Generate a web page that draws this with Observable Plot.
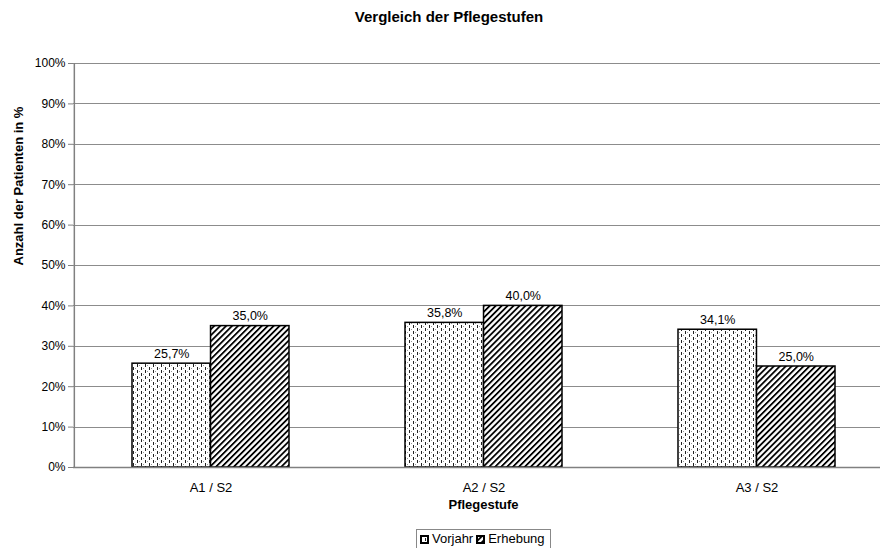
<!DOCTYPE html>
<html>
<head>
<meta charset="utf-8">
<script src="https://cdn.jsdelivr.net/npm/d3@7"></script>
<script src="https://cdn.jsdelivr.net/npm/@observablehq/plot@0.6"></script>
<style>
  html, body { margin: 0; padding: 0; background: #fff; overflow: hidden; }
  #wrap { position: relative; width: 880px; height: 548px; overflow: hidden; font-family: "Liberation Sans", Arial, sans-serif; color: #000; }
  #title { position: absolute; left: 0; top: 8px; width: 898px; text-align: center; font-weight: bold; font-size: 15px; }
  #chart { position: absolute; left: 0; top: 40px; }
  #chart svg { max-width: none !important; }
  #legend { position: absolute; left: 416px; top: 529px; height: 18px; width: 130px; padding: 0 0 0 3px; border: 1px solid #888; font-size: 13px; line-height: 18px; white-space: nowrap; background: #fff; }
  #legend span.item { display: inline-block; margin-right: 3px; }
  #legend svg { vertical-align: -1px; margin-right: 3px; }
</style>
</head>
<body>
<div id="wrap">
  <div id="title">Vergleich der Pflegestufen</div>
  <div id="chart"></div>
  <div id="legend"></div>
</div>
<script>
const categories = ["A1 / S2", "A2 / S2", "A3 / S2"];
const seriesNames = ["Vorjahr", "Erhebung"];
const vorjahr = [25.7, 35.8, 34.1];
const erhebung = [35.0, 40.0, 25.0];
const yTicks = [0, 10, 20, 30, 40, 50, 60, 70, 80, 90, 100];
const yLabel = "Anzahl der Patienten in %";
const xLabel = "Pflegestufe";
const patterns = {Vorjahr: "url(#pat-dots)", Erhebung: "url(#pat-hatch)"};

const rowsV = categories.map((c, i) => ({cat: c, series: "Vorjahr", value: vorjahr[i]}));
const rowsE = categories.map((c, i) => ({cat: c, series: "Erhebung", value: erhebung[i]}));

const de = d3.formatLocale({decimal: ",", thousands: ".", grouping: [3], currency: ["", " €"]});
const fmt1 = de.format(".1f");

// layout of the band scale
const W = 893, ML = 73, MR = 0;
const padIn = 0.4254, padOut = 0.2127;
const step = (W - ML - MR) / (categories.length - padIn + 2 * padOut);
const half = step * (1 - padIn) / 2;

const chart = Plot.plot({
  width: W,
  height: 485,
  marginTop: 23,
  marginLeft: ML,
  marginRight: MR,
  marginBottom: 58,
  style: {fontFamily: "'Liberation Sans', Arial, sans-serif", fontSize: "12px", color: "#000", background: "transparent", maxWidth: "none"},
  x: {domain: categories, paddingInner: padIn, paddingOuter: padOut},
  y: {domain: [0, 100]},
  marks: [
    Plot.ruleY(yTicks, {y: d => d, stroke: "#8c8c8c", strokeWidth: 1, shapeRendering: "crispEdges"}),
    Plot.barY(rowsV, {x: "cat", y: "value", fill: patterns.Vorjahr, stroke: "#000", strokeWidth: 1.5, insetRight: half}),
    Plot.barY(rowsE, {x: "cat", y: "value", fill: patterns.Erhebung, stroke: "#000", strokeWidth: 1.5, insetLeft: half}),
    Plot.text(rowsV, {x: "cat", y: "value", text: d => fmt1(d.value) + "%", dx: -half / 2, dy: -6, lineAnchor: "bottom", fill: "#000", fontSize: 12.5}),
    Plot.text(rowsE, {x: "cat", y: "value", text: d => fmt1(d.value) + "%", dx: half / 2, dy: -6, lineAnchor: "bottom", fill: "#000", fontSize: 12.5}),
    Plot.axisY({ticks: yTicks, tickFormat: d => d + "%", tickSize: 5, tickPadding: 3, label: null, stroke: "#808080"}),
    Plot.ruleX([categories[0]], {x: d => d, dx: -step * (padOut + (1 - padIn) / 2), stroke: "#808080", strokeWidth: 1.5}),
    Plot.axisX({anchor: "bottom", tickSize: 0, tickPadding: 15, label: null, fontSize: 13}),
    Plot.ruleY([0], {stroke: "#808080", strokeWidth: 1.5}),
    Plot.text([xLabel], {text: d => d, frameAnchor: "bottom", dy: 41, fontWeight: "bold", fontSize: 13}),
    Plot.text([yLabel], {text: d => d, frameAnchor: "left", dx: -55, rotate: -90, fontWeight: "bold", fontSize: 13})
  ]
});

// pattern definitions
const ns = "http://www.w3.org/2000/svg";
const defs = document.createElementNS(ns, "defs");
defs.innerHTML = `
  <pattern id="pat-dots" patternUnits="userSpaceOnUse" width="8" height="6">
    <rect width="8" height="6" fill="#fff"/>
    <rect x="1" y="0" width="1" height="3" fill="#222"/>
    <rect x="5" y="3" width="1" height="3" fill="#222"/>
    <rect x="3" y="1" width="1" height="1" fill="#999"/>
    <rect x="7" y="4" width="1" height="1" fill="#999"/>
  </pattern>
  <pattern id="pat-hatch" patternUnits="userSpaceOnUse" width="4.2" height="4.2" patternTransform="rotate(45)">
    <rect width="4.2" height="4.2" fill="#fff"/>
    <rect x="0" y="0" width="1.8" height="4.2" fill="#000"/>
  </pattern>`;
chart.insertBefore(defs, chart.firstChild);
document.getElementById("chart").appendChild(chart);

// legend
const legend = document.getElementById("legend");
seriesNames.forEach(name => {
  const item = document.createElement("span");
  item.className = "item";
  item.innerHTML = `<svg width="9" height="9"><rect x="1" y="1" width="7" height="7" fill="${patterns[name]}" stroke="#000" stroke-width="2"/></svg>${name}`;
  legend.appendChild(item);
});
</script>
</body>
</html>
